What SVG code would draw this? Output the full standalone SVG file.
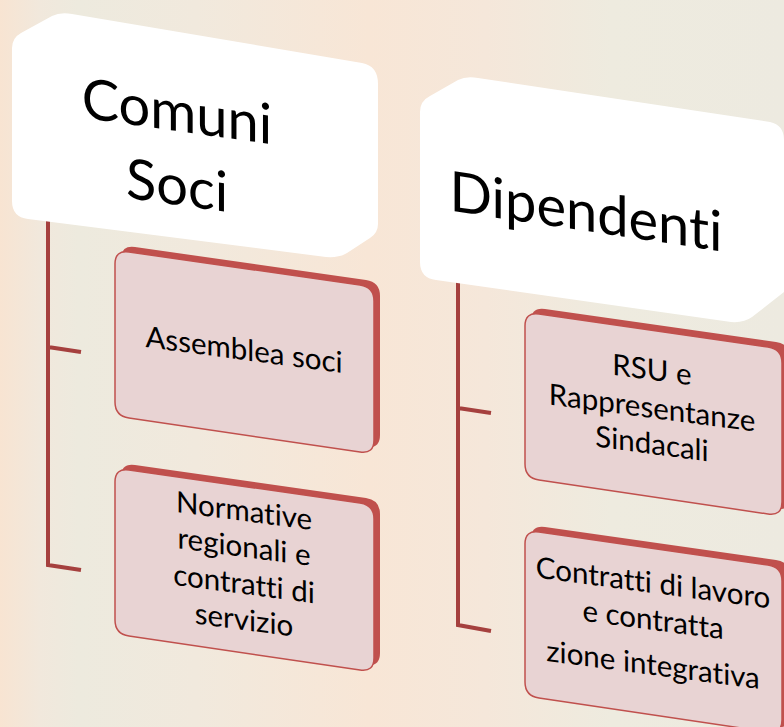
<svg xmlns="http://www.w3.org/2000/svg" width="784" height="727" viewBox="0 0 784 727">
<defs>
<linearGradient id="bg" x1="0" y1="0" x2="1" y2="0">
<stop offset="0" stop-color="#f8e4d2"/>
<stop offset="0.05" stop-color="#f1e8dc"/>
<stop offset="0.1" stop-color="#edeade"/>
<stop offset="0.25" stop-color="#f1e9dd"/>
<stop offset="0.47" stop-color="#f8e6d6"/>
<stop offset="0.62" stop-color="#f5e7da"/>
<stop offset="0.78" stop-color="#eeebdf"/>
<stop offset="1" stop-color="#edeae0"/>
</linearGradient>
</defs>
<style>
.hdr{fill:#ffffff;}
.depth{fill:#c0504d;}
.face{fill:#e8d3d3;stroke:#c0504d;stroke-width:1.5;}
.conn{fill:none;stroke:#a5403e;stroke-width:4;stroke-linejoin:miter;}
text{font-variant-ligatures:none;font-feature-settings:"liga" 0;}
.t1{font-family:Lato,"Liberation Sans",sans-serif;font-size:56px;fill:#000;text-anchor:middle;}
.t2{font-family:Lato,"Liberation Sans",sans-serif;font-size:29.5px;fill:#000;text-anchor:middle;}
</style>
<rect x="0" y="0" width="784" height="727" fill="url(#bg)"/>

<g id="connectors">
<path class="conn" d="M48,215 L48,565 L81,570 M48,347 L81,352"/>
<path class="conn" d="M458,278 L458,625 L491,631 M458,408 L491,413"/>
</g>

<g id="header-comuni">
<path class="hdr" d="M12,48 Q12,38 21,33 L52,16 Q60,12 72,14 L362,63 Q378,66 378,84 L378,224 Q378,233 370,238 L347,253 Q339,258 326,257 L28,219 Q12,217 12,201 Z"/>
<g transform="translate(177,131) skewY(8)">
<text class="t1" x="0" y="0">Comuni</text>
<text class="t1" x="0" y="74">Soci</text>
</g>
</g>

<g id="header-dipendenti">
<path class="hdr" d="M420,112 Q420,101 430,96 L458,80 Q466,76 478,78 L770,122 Q784,125 784,140 L784,292 L752,317 Q744,323 731,322 L436,280 Q420,278 420,262 Z"/>
<g transform="translate(586,231) skewY(8.5)">
<text class="t1" x="0" y="0">Dipendenti</text>
</g>
</g>

<g id="box-assemblea">
<path class="depth" d="M121,259 Q121,245 135,247 L366,280 Q380,282 380,296 L380,435 Q380,449 366,447 L135,413 Q121,411 121,397 Z"/>
<path class="face" d="M115,264 Q115,250 129,252 L360,285 Q374,287 374,301 L374,440 Q374,454 360,452 L129,418 Q115,416 115,402 Z"/>
<g transform="translate(244,360) skewY(7.5)">
<text class="t2" x="0" y="0">Assemblea soci</text>
</g>
</g>

<g id="box-normative">
<path class="depth" d="M121,477 Q121,463 135,465 L366,498 Q380,500 380,514 L380,653 Q380,667 366,665 L135,631 Q121,629 121,615 Z"/>
<path class="face" d="M115,482 Q115,468 129,470 L360,503 Q374,505 374,519 L374,658 Q374,672 360,670 L129,636 Q115,634 115,620 Z"/>
<g transform="translate(244,521) skewY(7.5)">
<text class="t2" x="0" y="0">Normative</text>
<text class="t2" x="0" y="36">regionali e</text>
<text class="t2" x="0" y="73">contratti di</text>
<text class="t2" x="0" y="109">servizio</text>
</g>
</g>

<g id="box-rsu">
<path class="depth" d="M531,321 Q531,307 545,309 L776,342 Q790,344 790,358 L790,497 Q790,511 776,509 L545,475 Q531,473 531,459 Z"/>
<path class="face" d="M525,326 Q525,312 539,314 L768,347 Q782,349 782,363 L782,502 Q782,516 768,514 L539,480 Q525,478 525,464 Z"/>
<g transform="translate(652,380) skewY(7.5)">
<text class="t2" x="0" y="0">RSU e</text>
<text class="t2" x="0" y="38">Rappresentanze</text>
<text class="t2" x="0" y="74">Sindacali</text>
</g>
</g>

<g id="box-contratti">
<path class="depth" d="M531,539 Q531,525 545,527 L776,560 Q790,562 790,576 L790,715 Q790,729 776,727 L545,693 Q531,691 531,677 Z"/>
<path class="face" d="M525,544 Q525,530 539,532 L768,565 Q782,567 782,581 L782,720 Q782,734 768,732 L539,698 Q525,696 525,682 Z"/>
<g transform="translate(653,593) skewY(7.5)">
<text class="t2" x="0" y="0">Contratti di lavoro</text>
<text class="t2" x="0" y="37">e contratta</text>
<text class="t2" x="0" y="82">zione integrativa</text>
</g>
</g>
</svg>
